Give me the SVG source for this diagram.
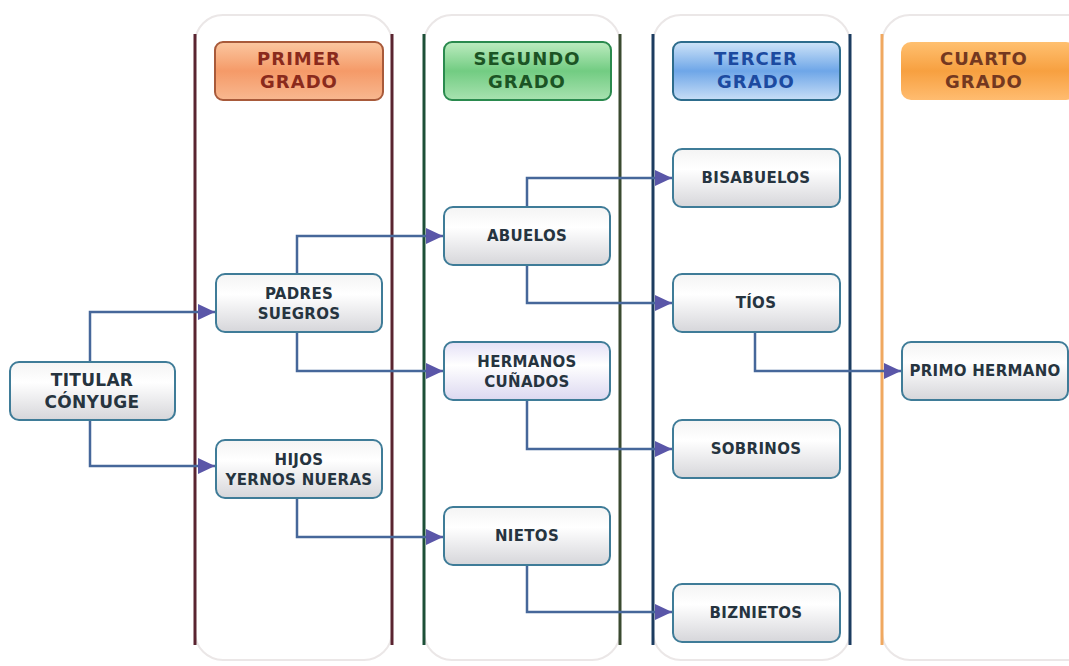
<svg xmlns="http://www.w3.org/2000/svg" width="1069" height="666" viewBox="0 0 1069 666">
<defs>
<linearGradient id="gNode" x1="0" y1="0" x2="0" y2="1">
<stop offset="0" stop-color="#f4f4f4"/><stop offset="0.35" stop-color="#ffffff"/><stop offset="1" stop-color="#d6d6da"/>
</linearGradient>
<linearGradient id="gLav" x1="0" y1="0" x2="0" y2="1">
<stop offset="0" stop-color="#e4e0f6"/><stop offset="0.4" stop-color="#ffffff"/><stop offset="1" stop-color="#dcd8f0"/>
</linearGradient>
<linearGradient id="gOr1" x1="0" y1="0" x2="0" y2="1">
<stop offset="0" stop-color="#fbc7a0"/><stop offset="0.5" stop-color="#f59a68"/><stop offset="1" stop-color="#f8b890"/>
</linearGradient>
<linearGradient id="gGr" x1="0" y1="0" x2="0" y2="1">
<stop offset="0" stop-color="#bdecc0"/><stop offset="0.5" stop-color="#72cc82"/><stop offset="1" stop-color="#a8e2b0"/>
</linearGradient>
<linearGradient id="gBl" x1="0" y1="0" x2="0" y2="1">
<stop offset="0" stop-color="#cfe4f8"/><stop offset="0.5" stop-color="#6ea6e8"/><stop offset="1" stop-color="#c8def6"/>
</linearGradient>
<linearGradient id="gOr2" x1="0" y1="0" x2="0" y2="1">
<stop offset="0" stop-color="#ffc070"/><stop offset="0.5" stop-color="#f7a040"/><stop offset="1" stop-color="#ffbc70"/>
</linearGradient>
<marker id="arr" markerUnits="userSpaceOnUse" markerWidth="18" markerHeight="16" refX="17" refY="8" orient="auto">
<path d="M0,0 L17,8 L0,16 Z" fill="#5a56a8"/>
</marker>
<style>
.panel{fill:#ffffff;stroke:#ebe7e7;stroke-width:2}
.node{stroke:#3f7c98;stroke-width:2}
.nt{font-family:"DejaVu Sans",Verdana,sans-serif;font-weight:bold;font-size:15px;fill:#26343f;text-anchor:middle;letter-spacing:0.3px}
.ht{font-family:"DejaVu Sans",Verdana,sans-serif;font-weight:bold;font-size:18px;text-anchor:middle;letter-spacing:1px}
.conn{fill:none;stroke:#46679a;stroke-width:2.5}
</style>
</defs>
<rect width="1069" height="666" fill="#ffffff"/>

<g id="columns">
<rect class="panel" x="195" y="15" width="197" height="645" rx="28"/>
<rect class="panel" x="424" y="15" width="196" height="645" rx="28"/>
<rect class="panel" x="653" y="15" width="197" height="645" rx="28"/>
<rect class="panel" x="882" y="15" width="220" height="645" rx="28"/>
<g stroke-width="3">
<line x1="195" y1="34" x2="195" y2="645" stroke="#5a2430"/>
<line x1="392" y1="34" x2="392" y2="645" stroke="#5a2430"/>
<line x1="424" y1="34" x2="424" y2="645" stroke="#1d5038"/>
<line x1="620" y1="34" x2="620" y2="645" stroke="#3a4a30"/>
<line x1="653" y1="34" x2="653" y2="645" stroke="#1c3c60"/>
<line x1="850" y1="34" x2="850" y2="645" stroke="#1c3c60"/>
<line x1="882" y1="34" x2="882" y2="645" stroke="#f0a860"/>
</g>
</g>

<g id="connectors">
<path class="conn" d="M90,362 V312 H215" marker-end="url(#arr)"/>
<path class="conn" d="M90,420 V466 H215" marker-end="url(#arr)"/>
<path class="conn" d="M297,274 V236 H443" marker-end="url(#arr)"/>
<path class="conn" d="M297,332 V371 H443" marker-end="url(#arr)"/>
<path class="conn" d="M297,498 V537 H443" marker-end="url(#arr)"/>
<path class="conn" d="M527,207 V178 H672" marker-end="url(#arr)"/>
<path class="conn" d="M527,265 V303 H672" marker-end="url(#arr)"/>
<path class="conn" d="M527,400 V449 H672" marker-end="url(#arr)"/>
<path class="conn" d="M527,565 V612 H672" marker-end="url(#arr)"/>
<path class="conn" d="M755,332 V371 H901" marker-end="url(#arr)"/>
</g>

<g id="h-primer">
<rect x="215" y="42" width="168" height="58" rx="8" fill="url(#gOr1)" stroke="#a85a3a" stroke-width="2"/>
<text class="ht" x="299" y="65" fill="#8a2a1c">PRIMER</text>
<text class="ht" x="299" y="88" fill="#8a2a1c">GRADO</text>
</g>
<g id="h-segundo">
<rect x="444" y="42" width="167" height="58" rx="8" fill="url(#gGr)" stroke="#2a8a4e" stroke-width="2"/>
<text class="ht" x="527" y="65" fill="#1b5424">SEGUNDO</text>
<text class="ht" x="527" y="88" fill="#1b5424">GRADO</text>
</g>
<g id="h-tercer">
<rect x="673" y="42" width="167" height="58" rx="8" fill="url(#gBl)" stroke="#2d6c8c" stroke-width="2"/>
<text class="ht" x="756" y="65" fill="#1c4aa0">TERCER</text>
<text class="ht" x="756" y="88" fill="#1c4aa0">GRADO</text>
</g>
<g id="h-cuarto">
<rect x="901" y="42" width="175" height="58" rx="10" fill="url(#gOr2)"/>
<text class="ht" x="984" y="65" fill="#743820">CUARTO</text>
<text class="ht" x="984" y="88" fill="#743820">GRADO</text>
</g>

<g id="n-titular">
<rect class="node" x="10" y="362" width="165" height="58" rx="9" fill="url(#gNode)"/>
<text class="nt" x="92" y="386" style="font-size:17px">TITULAR</text>
<text class="nt" x="92" y="408" style="font-size:17px">CÓNYUGE</text>
</g>
<g id="n-padres">
<rect class="node" x="216" y="274" width="166" height="58" rx="9" fill="url(#gNode)"/>
<text class="nt" x="299" y="299">PADRES</text>
<text class="nt" x="299" y="319">SUEGROS</text>
</g>
<g id="n-hijos">
<rect class="node" x="216" y="440" width="166" height="58" rx="9" fill="url(#gNode)"/>
<text class="nt" x="299" y="465">HIJOS</text>
<text class="nt" x="299" y="485">YERNOS NUERAS</text>
</g>
<g id="n-abuelos">
<rect class="node" x="444" y="207" width="166" height="58" rx="9" fill="url(#gNode)"/>
<text class="nt" x="527" y="241">ABUELOS</text>
</g>
<g id="n-hermanos">
<rect class="node" x="444" y="342" width="166" height="58" rx="9" fill="url(#gLav)"/>
<text class="nt" x="527" y="367">HERMANOS</text>
<text class="nt" x="527" y="387">CUÑADOS</text>
</g>
<g id="n-nietos">
<rect class="node" x="444" y="507" width="166" height="58" rx="9" fill="url(#gNode)"/>
<text class="nt" x="527" y="541">NIETOS</text>
</g>
<g id="n-bisabuelos">
<rect class="node" x="673" y="149" width="167" height="58" rx="9" fill="url(#gNode)"/>
<text class="nt" x="756" y="183">BISABUELOS</text>
</g>
<g id="n-tios">
<rect class="node" x="673" y="274" width="167" height="58" rx="9" fill="url(#gNode)"/>
<text class="nt" x="756" y="308">TÍOS</text>
</g>
<g id="n-sobrinos">
<rect class="node" x="673" y="420" width="167" height="58" rx="9" fill="url(#gNode)"/>
<text class="nt" x="756" y="454">SOBRINOS</text>
</g>
<g id="n-biznietos">
<rect class="node" x="673" y="584" width="167" height="58" rx="9" fill="url(#gNode)"/>
<text class="nt" x="756" y="618">BIZNIETOS</text>
</g>
<g id="n-primo">
<rect class="node" x="902" y="342" width="166" height="58" rx="9" fill="url(#gNode)"/>
<text class="nt" x="985" y="376">PRIMO HERMANO</text>
</g>
</svg>
